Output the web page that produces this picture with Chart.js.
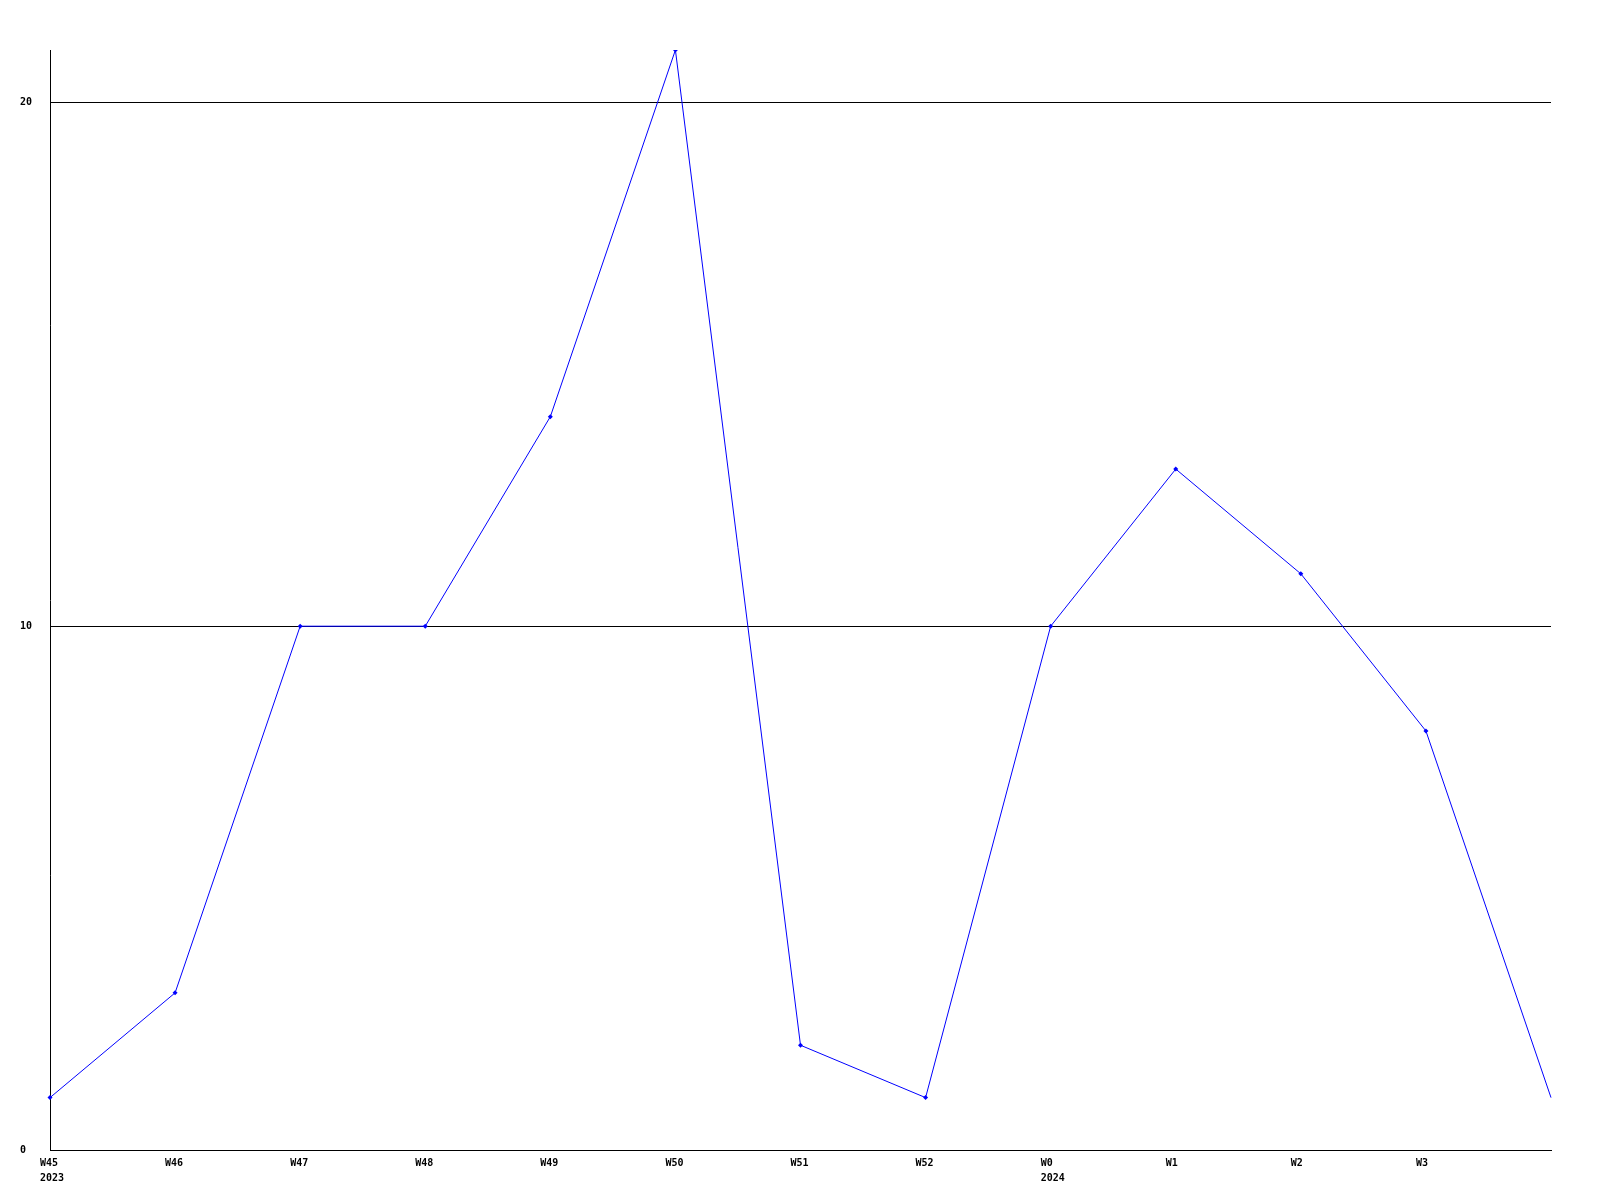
<!DOCTYPE html>
<html>
<head>
<meta charset="utf-8">
<script src="https://cdn.jsdelivr.net/npm/chart.js@4"></script>
<style>
  body { margin: 0; background: #fff; }
  canvas { display: block; }
</style>
</head>
<body>
<canvas id="weekly" width="1600" height="1200"></canvas>
<script>
const weeks = ["W45", "W46", "W47", "W48", "W49", "W50", "W51", "W52", "W0", "W1", "W2", "W3", ""]
const years = ["2023", "", "", "", "", "", "", "", "2024", "", "", "", ""]
const counts = [1, 3, 10, 10, 14, 21, 2, 1, 10, 13, 11, 8, 1]
const yTicks = [0, 10, 20]

const labels = weeks.map((w, i) => years[i] ? [w, years[i]] : w)
const tickFont = { family: "'DejaVu Sans Mono', monospace", size: 10, weight: "bold", lineHeight: 1.5 }

new Chart(document.getElementById("weekly"), {
  type: "line",
  data: {
    labels: labels,
    datasets: [{
      data: counts,
      borderColor: "#0000ff",
      backgroundColor: "#0000ff",
      borderWidth: 1,
      pointStyle: "rectRot",
      pointRadius: ctx => ctx.dataIndex === counts.length - 1 ? 0 : 2.5,
      pointBorderWidth: 0,
      tension: 0
    }]
  },
  options: {
    responsive: false,
    animation: false,
    layout: { padding: { left: 20, top: 50, right: 49, bottom: 0 } },
    plugins: { legend: { display: false }, tooltip: { enabled: false } },
    scales: {
      x: {
        offset: false,
        grid: { display: false, drawTicks: false },
        border: { color: "#000", width: 1 },
        ticks: {
          color: "#000",
          font: tickFont,
          align: "start",
          labelOffset: -10,
          padding: 6,
          maxRotation: 0,
          autoSkip: false
        },
        afterFit: scale => { scale.height = 50 }
      },
      y: {
        min: 0,
        max: 21,
        grid: { color: "#000", drawTicks: false },
        border: { color: "#000", width: 1 },
        afterBuildTicks: axis => { axis.ticks = yTicks.map(v => ({ value: v })) },
        ticks: {
          color: "#000",
          font: tickFont,
          crossAlign: "far"
        },
        afterFit: scale => { scale.width = 30 }
      }
    }
  }
})
</script>
</body>
</html>
